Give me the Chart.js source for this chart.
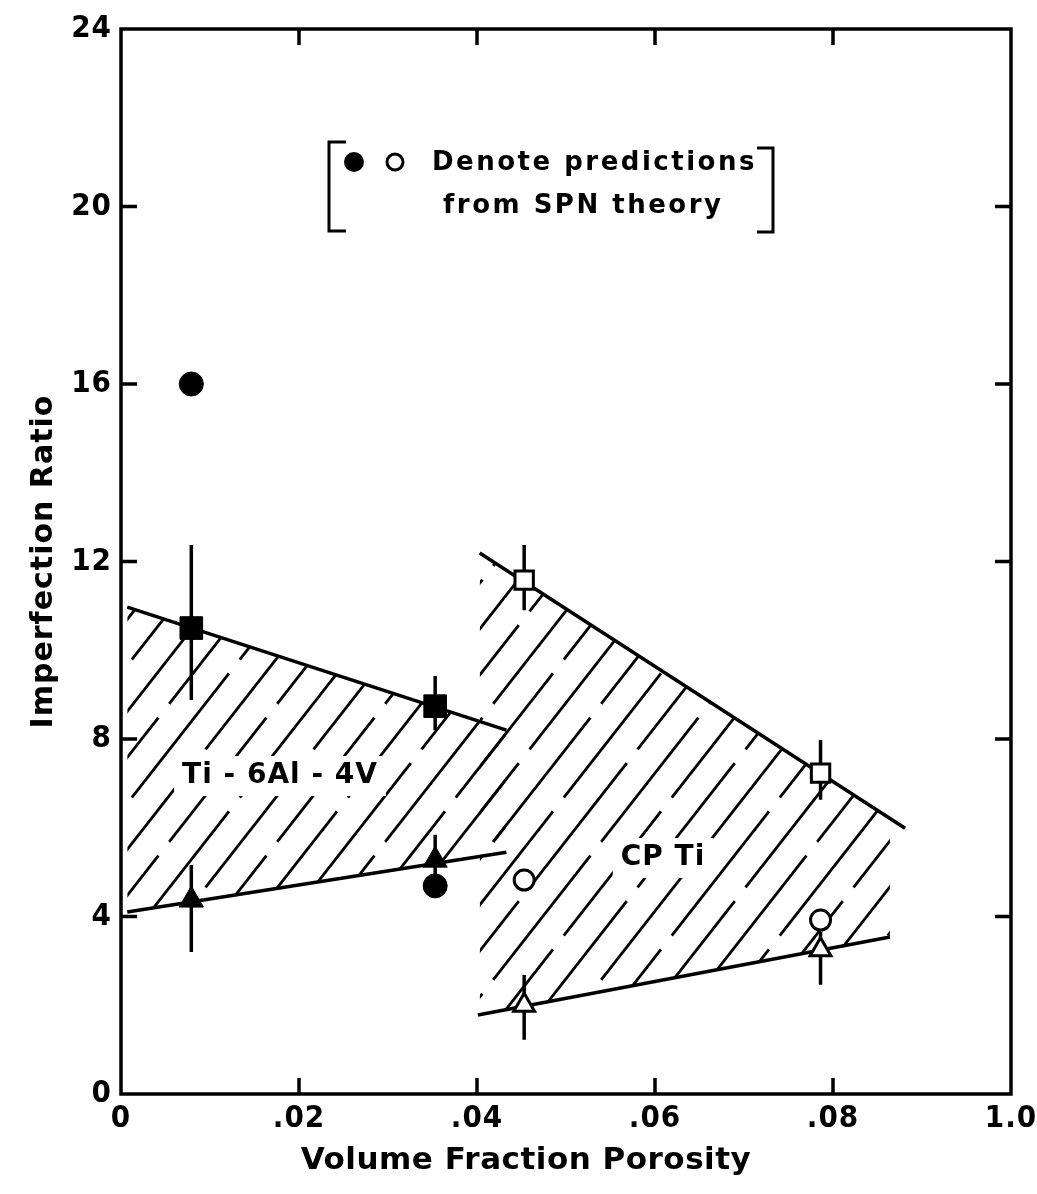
<!DOCTYPE html>
<html>
<head>
<meta charset="utf-8">
<script src="https://cdn.jsdelivr.net/npm/chart.js@4.4.1/dist/chart.umd.min.js"></script>
<style>
  html, body { margin: 0; padding: 0; background: #fff; }
  canvas { display: block; }
</style>
</head>
<body>
<canvas id="myChart" width="1037" height="1194"></canvas>
<script>
// tick labels
var xTickLabels = ['0', '.02', '.04', '.06', '.08', '1.0'];

// Ti-6Al-4V (filled symbols)
var tiX = [0.0079, 0.0353];
var tiSquareY = [10.5, 8.74];
var tiSquareLo = [8.88, 8.2];
var tiSquareHi = [12.37, 9.42];
var tiTriangleY = [4.37, 5.27];
var tiTriangleLo = [3.2, 4.8];
var tiTriangleHi = [5.16, 5.84];
var tiSpnY = [16.0, 4.69];

// CP Ti (open symbols)
var cpX = [0.0453, 0.0786];
var cpSquareY = [11.58, 7.23];
var cpSquareLo = [10.9, 6.63];
var cpSquareHi = [12.37, 7.98];
var cpTriangleY = [2.0, 3.25];
var cpTriangleLo = [1.22, 2.46];
var cpTriangleHi = [2.68, 3.65];
var cpSpnY = [4.82, 3.92];

// band edges
var tiBandX = [0.0007, 0.0433];
var tiBandUpper = [10.97, 8.2];
var tiBandLower = [4.1, 5.45];
var cpUpperX = [0.0403, 0.0881];
var cpUpperY = [12.19, 5.99];
var cpLowerX = [0.0401, 0.0864];
var cpLowerY = [1.78, 3.54];

function pts(xs, ys) {
    var out = [];
    for (var i = 0; i < xs.length; i++) out.push({x: xs[i], y: ys[i]});
    return out;
}

function errPts(xs, lo, hi) {
    var out = [];
    for (var i = 0; i < xs.length; i++) {
        out.push({x: xs[i], y: lo[i]});
        out.push({x: xs[i], y: hi[i]});
        out.push({x: xs[i], y: null});
    }
    return out;
}

var ctx = document.getElementById('myChart').getContext('2d');

function makeHatch() {
    var W = 108, H = 138, step = 36;
    var c = document.createElement('canvas');
    c.width = W; c.height = H;
    var g = c.getContext('2d');
    g.strokeStyle = '#000';
    g.lineWidth = 2.8;
    var gaps = [0.12, 0.47, 0.8];
    for (var o = -2 * W; o <= 2 * W; o += step) {
        var gs = gaps[((Math.round(o / step) % 3) + 3) % 3];
        for (var k = -3; k <= 3; k++) {
            var t0 = k + gs + 0.1, t1 = k + 1 + gs;
            g.beginPath();
            g.moveTo(o + t0 * W, H - t0 * H);
            g.lineTo(o + t1 * W, H - t1 * H);
            g.stroke();
        }
    }
    return ctx.createPattern(c, 'repeat');
}
var hatch = makeHatch();

var FONT = '"DejaVu Sans", sans-serif';

var framePlugin = {
    id: 'frame',
    beforeDraw: function(chart) {
        chart.ctx.letterSpacing = '1px';
    },
    afterDraw: function(chart) {
        var c = chart.ctx, a = chart.chartArea;
        var xs = chart.scales.x, ys = chart.scales.y;
        c.save();
        c.strokeStyle = '#000';
        c.lineWidth = 3.5;
        c.strokeRect(a.left, a.top, a.right - a.left, a.bottom - a.top);
        // inward ticks on all sides
        var tl = 16;
        c.beginPath();
        xs.ticks.forEach(function(t) {
            if (t.value <= xs.min || t.value >= xs.max) return;
            var px = xs.getPixelForValue(t.value);
            c.moveTo(px, a.bottom); c.lineTo(px, a.bottom - tl);
            c.moveTo(px, a.top); c.lineTo(px, a.top + tl);
        });
        ys.ticks.forEach(function(t) {
            if (t.value <= ys.min || t.value >= ys.max) return;
            var py = ys.getPixelForValue(t.value);
            c.moveTo(a.left, py); c.lineTo(a.left + tl, py);
            c.moveTo(a.right, py); c.lineTo(a.right - tl, py);
        });
        c.stroke();

        c.fillStyle = '#000';
        c.textAlign = 'center';
        c.textBaseline = 'middle';

        // x axis title
        c.font = 'bold 31px ' + FONT;
        c.letterSpacing = '0.5px';
        c.fillText('Volume Fraction Porosity', 526, 1161);

        // region labels
        c.font = 'bold 28px ' + FONT;
        c.letterSpacing = '1px';
        [['Ti - 6Al - 4V', 280, 776], ['CP Ti', 663, 858]].forEach(function(l) {
            var w = c.measureText(l[0]).width;
            c.fillStyle = '#fff';
            c.fillRect(l[1] - w / 2 - 8, l[2] - 20, w + 16, 40);
            c.fillStyle = '#000';
            c.fillText(l[0], l[1], l[2]);
        });

        // note box
        c.lineWidth = 3;
        c.beginPath();
        c.moveTo(346, 142); c.lineTo(329, 142); c.lineTo(329, 231); c.lineTo(346, 231);
        c.moveTo(757, 148); c.lineTo(773, 148); c.lineTo(773, 232); c.lineTo(757, 232);
        c.stroke();
        c.beginPath();
        c.arc(354, 162, 10, 0, Math.PI * 2);
        c.fill();
        c.beginPath();
        c.arc(395, 162, 8, 0, Math.PI * 2);
        c.stroke();
        c.textAlign = 'left';
        c.font = 'bold 26px ' + FONT;
        c.letterSpacing = '2.5px';
        c.fillText('Denote predictions', 432, 163);
        c.fillText('from SPN theory', 443, 206);
        c.restore();
    }
};

var lineStyle = {
    borderColor: '#000',
    borderWidth: 3.5,
    pointRadius: 0,
    tension: 0
};

function marker(data, style, radius, filled) {
    return {
        data: data,
        showLine: false,
        order: 1,
        pointStyle: style,
        pointRadius: radius,
        pointHoverRadius: radius,
        pointBackgroundColor: filled ? '#000' : '#fff',
        pointBorderColor: '#000',
        pointBorderWidth: filled ? 1 : 3
    };
}

new Chart(ctx, {
    type: 'line',
    data: {
        datasets: [
            Object.assign({data: pts(tiBandX, tiBandUpper), fill: '+1', backgroundColor: hatch, order: 3}, lineStyle),
            Object.assign({data: pts(tiBandX, tiBandLower), fill: false, order: 3}, lineStyle),
            Object.assign({data: pts(cpUpperX, cpUpperY), fill: '+1', backgroundColor: hatch, order: 3}, lineStyle),
            Object.assign({data: pts(cpLowerX, cpLowerY), fill: false, order: 3}, lineStyle),
            Object.assign({
                data: [].concat(
                    errPts(tiX, tiSquareLo, tiSquareHi),
                    errPts(tiX, tiTriangleLo, tiTriangleHi),
                    errPts(cpX, cpSquareLo, cpSquareHi),
                    errPts(cpX, cpTriangleLo, cpTriangleHi)
                ),
                spanGaps: false,
                fill: false,
                order: 2
            }, lineStyle),
            marker(pts(tiX, tiSquareY), 'rect', 16, true),
            marker(pts(tiX, tiTriangleY), 'triangle', 14, true),
            marker(pts(tiX, tiSpnY), 'circle', 12, true),
            marker(pts(cpX, cpSquareY), 'rect', 13, false),
            marker(pts(cpX, cpTriangleY), 'triangle', 12, false),
            marker(pts(cpX, cpSpnY), 'circle', 10, false)
        ]
    },
    options: {
        responsive: false,
        animation: false,
        devicePixelRatio: 1,
        layout: { padding: { top: 29, right: 26, left: 0, bottom: 0 } },
        plugins: {
            legend: { display: false },
            tooltip: { enabled: false }
        },
        scales: {
            x: {
                type: 'linear',
                min: 0,
                max: 0.1,
                afterFit: function(scale) {
                    scale.height = 100;
                    scale.paddingLeft = 0;
                    scale.paddingRight = 0;
                },
                grid: { display: false, drawTicks: false },
                border: { display: false },
                ticks: {
                    stepSize: 0.02,
                    padding: 6,
                    color: '#000',
                    font: { family: '"DejaVu Sans Condensed", "DejaVu Sans", sans-serif', size: 31, weight: 'bold' },
                    callback: function(value, index) { return xTickLabels[index]; }
                }
            },
            y: {
                min: 0,
                max: 24,
                afterFit: function(scale) { scale.width = 121; },
                grid: { display: false, drawTicks: false },
                border: { display: false },
                ticks: {
                    stepSize: 4,
                    padding: 9,
                    color: '#000',
                    font: { family: '"DejaVu Sans Condensed", "DejaVu Sans", sans-serif', size: 31, weight: 'bold' }
                },
                title: {
                    display: true,
                    text: 'Imperfection Ratio',
                    color: '#000',
                    padding: { top: 26, bottom: 0 },
                    font: { family: FONT, size: 30, weight: 'bold' }
                }
            }
        }
    },
    plugins: [framePlugin]
});
</script>
</body>
</html>
